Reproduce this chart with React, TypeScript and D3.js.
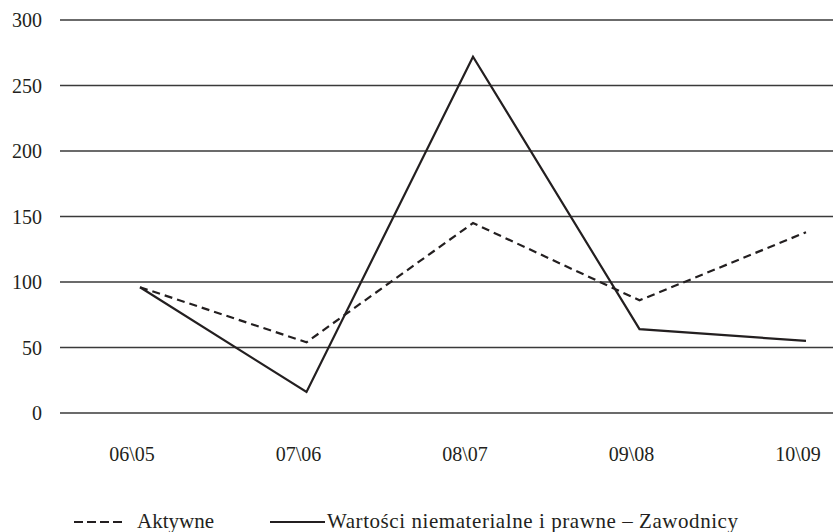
import React, { useEffect, useRef } from 'react';
import * as d3 from 'd3';

const categories = ['06\\05', '07\\06', '08\\07', '09\\08', '10\\09'];
const aktywne = [96, 54, 145, 86, 138];
const zawodnicy = [96, 16, 272, 64, 55];
const yTicks = [0, 50, 100, 150, 200, 250, 300];
const seriesNames = ['Aktywne', 'Wartości niematerialne i prawne – Zawodnicy'];

const width = 833;
const height = 532;
const font = '"Liberation Serif", "Times New Roman", serif';
const ink = '#231f20';

const App: React.FC = () => {
    const ref = useRef<SVGSVGElement>(null);

    useEffect(() => {
        const svg = d3.select(ref.current);
        svg.selectAll('*').remove();

        const x = d3.scalePoint<string>()
            .domain(categories)
            .range([140, 806]);

        const y = d3.scaleLinear()
            .domain([0, 300])
            .range([413, 20]);

        // gridlines + y labels
        const grid = svg.append('g');
        grid.selectAll('line')
            .data(yTicks)
            .enter()
            .append('line')
            .attr('x1', 60)
            .attr('x2', 833)
            .attr('y1', (d) => y(d))
            .attr('y2', (d) => y(d))
            .attr('stroke', '#3a3a3a')
            .attr('stroke-width', 1.3);

        grid.selectAll('text')
            .data(yTicks)
            .enter()
            .append('text')
            .attr('x', 42)
            .attr('y', (d) => y(d))
            .attr('dy', '0.35em')
            .attr('text-anchor', 'end')
            .attr('font-family', font)
            .attr('font-size', 20)
            .attr('fill', ink)
            .text((d) => d);

        // x labels (sit a little left of the points in the original)
        svg.append('g')
            .selectAll('text')
            .data(categories)
            .enter()
            .append('text')
            .attr('x', (d) => (x(d) as number) - 8)
            .attr('y', 461)
            .attr('text-anchor', 'middle')
            .attr('font-family', font)
            .attr('font-size', 20)
            .attr('fill', ink)
            .text((d) => d);

        const line = d3.line<number>()
            .x((d, i) => x(categories[i]) as number)
            .y((d) => y(d));

        svg.append('path')
            .datum(aktywne)
            .attr('d', line)
            .attr('fill', 'none')
            .attr('stroke', ink)
            .attr('stroke-width', 2.2)
            .attr('stroke-dasharray', '8,5');

        svg.append('path')
            .datum(zawodnicy)
            .attr('d', line)
            .attr('fill', 'none')
            .attr('stroke', ink)
            .attr('stroke-width', 2.2)
            .attr('stroke-linejoin', 'miter');

        // legend
        const legend = svg.append('g');
        legend.append('line')
            .attr('x1', 74).attr('x2', 124)
            .attr('y1', 522).attr('y2', 522)
            .attr('stroke', ink)
            .attr('stroke-width', 2.2)
            .attr('stroke-dasharray', '9,4');
        legend.append('text')
            .attr('x', 137).attr('y', 528)
            .attr('font-family', font)
            .attr('font-size', 21)
            .attr('fill', ink)
            .text(seriesNames[0]);
        legend.append('line')
            .attr('x1', 270).attr('x2', 325)
            .attr('y1', 522).attr('y2', 522)
            .attr('stroke', ink)
            .attr('stroke-width', 2.2);
        legend.append('text')
            .attr('x', 327).attr('y', 528)
            .attr('font-family', font)
            .attr('font-size', 21)
            .attr('fill', ink)
            .attr('textLength', 411)
            .attr('lengthAdjust', 'spacing')
            .text(seriesNames[1]);
    }, []);

    return (
        <svg ref={ref} width={width} height={height}
            style={{ position: 'absolute', left: 0, top: 0, background: '#fff' }}>
        </svg>
    );
};

export default App;
